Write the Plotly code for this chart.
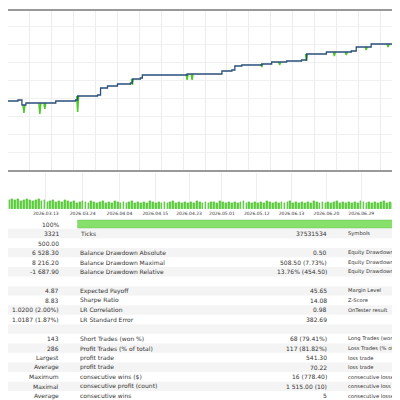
import plotly.graph_objects as go

bal_x = [0,10,13,14,17,18,45,48,68,70,90,93,100,110,123,125,133,135,160,180,215,225,228,235,255,265,280,295,300,320,345,350,365,390,400]
bal_y = [3450,3500,3500,3250,3250,3350,3350,3450,3500,3700,3750,4100,4200,4300,4350,4550,4600,4750,4750,4800,4950,5000,5200,5250,5300,5400,5450,5500,5800,5900,5950,6150,6300,6350,6500]
dip_x = [16,32,37,70,125,180,185,255,273,300,328,340,360,382]
dip_y = [2850,2800,3050,2900,4250,4500,4500,5150,5250,5450,5700,5750,6000,6150]
bar_h = [9,10,9,10,8,9,10,9,8,9,10,8,9,7,8,9,7,8,7,9,8,7,8,6,7,8,7,6,8,7,6,7,8,6,7,6,8,7,6,7,6,7,8,6,7,6,7,6,8,7,6,7,6,7,6,7,8,6,7,6,7,6,7,6,8,7,6,7,6,7,
         7,6,8,7,6,7,6,7,6,7,8,6,7,6,7,6,7,6,8,7,6,7,6,7,6,7,8,6,7,6,7,6,7,6,8,7,6,7,6,7,6,7,8,6,7,6,7,6,7,6,8,7,6,7,6,7,6,7,8,6,7,6,7,6,7,6]
tick_x = [38,75,112,148,182,215,250,285,320,355]
tick_t = ["2026.03.13","2026.03.24","2026.04.04","2026.04.15","2026.04.23","2026.05.01","2026.05.12","2026.06.13","2026.06.20","2026.06.29"]

col1 = ["100%","3321","500.00","6 528.30","8 216.20","-1 687.90","","4.87","8.83","1.0200 (2.00%)","1.0187 (1.87%)","","143","286","Largest","Average","Maximum","Maximal","Average"]
col2 = ["","Ticks","","Balance Drawdown Absolute","Balance Drawdown Maximal","Balance Drawdown Relative","","Expected Payoff","Sharpe Ratio","LR Correlation","LR Standard Error","","Short Trades (won %)","Profit Trades (% of total)","profit trade","profit trade","consecutive wins ($)","consecutive profit (count)","consecutive wins"]
col3 = ["","37531534","","0.50","508.50 (7.73%)","13.76% (454.50)","","45.65","14.08","0.98","382.69","","68 (79.41%)","117 (81.82%)","541.30","70.22","16 (778.40)","1 515.00 (10)","5"]
col4 = ["","Symbols","","Equity Drawdown Ab","Equity Drawdown M","Equity Drawdown Re","","Margin Level","Z-Score","OnTester result","","","Long Trades (won %","Loss Trades (% of","loss trade","loss trade","consecutive losses (","consecutive loss (c","consecutive losses"]

fig = go.Figure()
for x, y in zip(dip_x, dip_y):
    i = max(k for k in range(len(bal_x)) if bal_x[k] <= x)
    fig.add_trace(go.Scatter(x=[x-1, x, x+1], y=[bal_y[i], y, bal_y[i]], mode="lines",
                             line=dict(color="#4fc92a", width=1.5), showlegend=False))
fig.add_trace(go.Scatter(x=bal_x, y=bal_y, mode="lines", line=dict(color="#2a4f7a", width=1.3, shape="hv"), showlegend=False))
fig.add_trace(go.Bar(x=[i*400/len(bar_h) + 1.4 for i in range(len(bar_h))], y=bar_h, marker_color="#5cd43a",
                     marker_line=dict(color="#3fae25", width=0.3),
                     width=1.8, xaxis="x2", yaxis="y2", showlegend=False))

H = 400
def py(p): return 1 - p / H

fig.update_layout(
    width=400, height=400, margin=dict(l=0, r=0, t=0, b=0), paper_bgcolor="white", plot_bgcolor="white",
    xaxis=dict(domain=[0, 1], range=[0, 400], showticklabels=False, showgrid=True, gridcolor="#ececec",
               dtick=22, zeroline=False, showline=True, linecolor="#999", linewidth=2, mirror=True),
    yaxis=dict(domain=[py(162), py(3)], range=[0, 7950], showticklabels=False, showgrid=True,
               gridcolor="#f0f0f0", dtick=900, zeroline=False, showline=True, linecolor="#999", linewidth=2, mirror=True),
    xaxis2=dict(domain=[0, 1], range=[0, 400], anchor="y2", tickvals=tick_x, ticktext=tick_t,
                tickfont=dict(size=4.5, color="#333", family="DejaVu Sans"), ticks="", showgrid=True,
                gridcolor="#ececec", dtick=22, zeroline=False),
    yaxis2=dict(domain=[py(201), py(165)], range=[0, 36], showticklabels=False, showgrid=False, zeroline=False),
    bargap=0,
)

shapes = [dict(type="rect", xref="paper", yref="paper", x0=70/400, x1=1, y0=py(220), y1=py(212),
               fillcolor="#86e06a", line=dict(color="#6bbf55", width=0.5))]
ann = []
y0, dy = 216, 9.55
for r in range(len(col1)):
    yy = y0 + r * dy
    if r % 2 == 1:
        shapes.append(dict(type="rect", xref="paper", yref="paper", x0=0, x1=1, y0=py(yy+4.7), y1=py(yy-4.7),
                           fillcolor="#f4f4f4", line=dict(width=0), layer="below"))
    for txt, x, al, fs in [(col1[r], 53, "right", 6), (col2[r], 70, "left", 6), (col3[r], 323, "right", 6), (col4[r], 340, "left", 5.2)]:
        if txt:
            ann.append(dict(text=txt, x=x/400, y=py(yy), xref="paper", yref="paper", showarrow=False,
                            xanchor=al, yanchor="middle", font=dict(size=fs, color="#333", family="DejaVu Sans")))
fig.update_layout(shapes=shapes, annotations=ann)
fig.write_html("out.html")
